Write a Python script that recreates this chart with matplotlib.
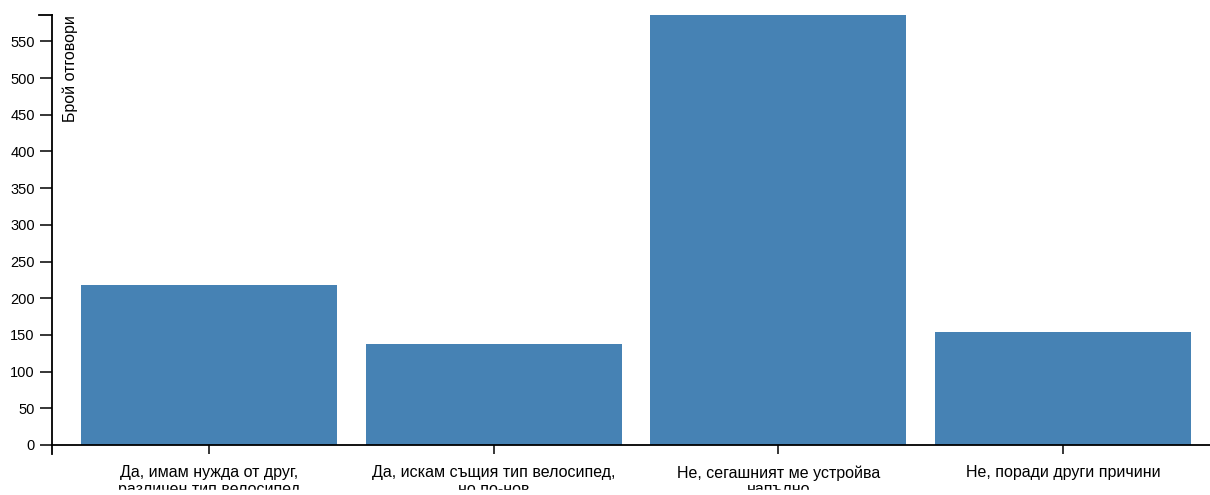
import matplotlib
matplotlib.use("Agg")
import matplotlib.pyplot as plt
from matplotlib.lines import Line2D
from matplotlib.patches import Rectangle

categories = [
    "Да, имам нужда от друг,\nразличен тип велосипед",
    "Да, искам същия тип велосипед,\nно по-нов",
    "Не, сегашният ме устройва\nнапълно",
    "Не, поради други причини",
]
values = [218, 138, 586, 154]
y_ticks = [0, 50, 100, 150, 200, 250, 300, 350, 400, 450, 500, 550]
y_label = "Брой отговори"

W, H = 1210, 495
fig = plt.figure(figsize=(W / 100, H / 100), dpi=100)
plt.rcParams['font.family'] = ['Liberation Sans', 'DejaVu Sans']

left_px, right_px, top_px, bottom_px = 51.5, 1210, 15, 445
ax = fig.add_axes([left_px / W, 1 - bottom_px / H, (right_px - left_px) / W, (bottom_px - top_px) / H])

step = 284.5
xs = list(range(len(categories)))
ax.bar(xs, values, width=0.9, color="#4682b4")
ax.set_xlim(-0.555, -0.555 + (right_px - left_px) / step)
ax.set_ylim(0, max(values))

for s in ["top", "right"]:
    ax.spines[s].set_visible(False)
for s in ["left", "bottom"]:
    ax.spines[s].set_linewidth(1.3)
    ax.spines[s].set_color("black")

ax.set_yticks(y_ticks)
ax.set_yticklabels([str(v) for v in y_ticks], fontsize=10.5)
ax.set_xticks(xs)
ax.set_xticklabels(categories, fontsize=11.5, linespacing=1.15)
ax.tick_params(axis="y", direction="out", length=9, width=1.1, color="black", pad=3)
ax.tick_params(axis="x", direction="out", length=6.5, width=1.1, color="black", pad=8)

# outer domain ticks (d3 style)
fig.add_artist(Line2D([(left_px - 12.5) / W, left_px / W], [1 - top_px / H, 1 - top_px / H],
                      color="black", lw=1.3))
fig.add_artist(Line2D([left_px / W, left_px / W], [1 - bottom_px / H, 1 - (bottom_px + 9) / H],
                      color="black", lw=1.3))

fig.text(62 / W, 1 - top_px / H, y_label, rotation=90, ha="left", va="top", fontsize=11.5)

# the reference view cuts off the bottom few pixels
fig.add_artist(Rectangle((0, 0), 1, 5 / H, transform=fig.transFigure, color="white", zorder=10))

fig.savefig("out.png", dpi=100)
